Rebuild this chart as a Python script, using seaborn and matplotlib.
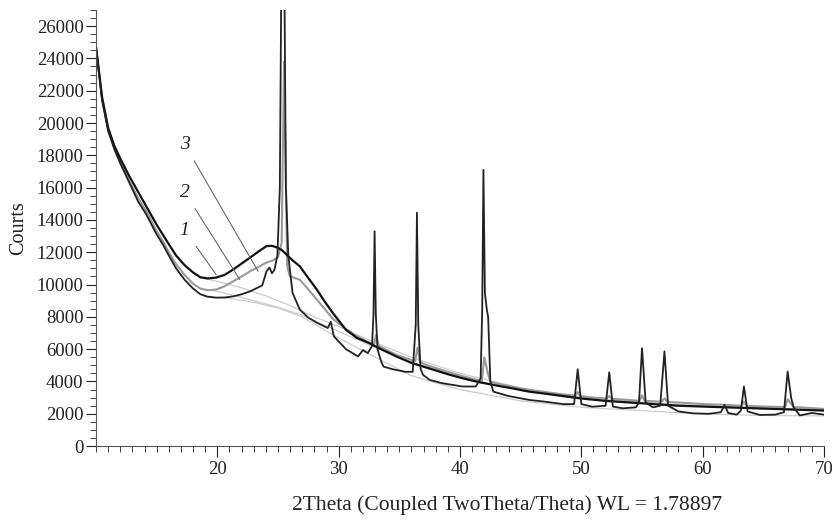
import matplotlib
matplotlib.use("Agg")
import matplotlib.pyplot as plt
import seaborn as sns
from matplotlib.ticker import MultipleLocator

# curve 1: upper black pattern with the broad amorphous hump
two_theta_1 = [10.0, 10.5, 11.0, 11.5, 12.0, 12.75, 13.5, 14.1, 15.0, 15.5, 16.0, 16.6,
               17.3, 18.0, 18.6, 19.2, 19.9, 20.6, 21.3, 22.0, 22.7, 23.4, 24.05, 24.5,
               24.9, 25.3, 25.7, 26.2, 26.8, 27.5, 28.2, 28.8, 29.5, 30.6, 31.5, 32.5,
               33.5, 34.75, 36.0, 37.5, 39.0, 40.2, 41.5, 43.0, 44.5, 45.7, 47.0, 48.5,
               50.0, 52.0, 54.0, 56.0, 58.0, 60.0, 62.0, 64.0, 66.0, 68.0, 70.0]
counts_1 = [24700, 21600, 19700, 18600, 17800, 16700, 15700, 14900, 13700, 13100, 12500, 11800,
            11200, 10750, 10450, 10380, 10430, 10600, 10930, 11300, 11670, 12050, 12380, 12400,
            12300, 12150, 11860, 11500, 11130, 10400, 9690, 9000, 8260, 7200, 6700, 6380,
            6000, 5550, 5150, 4800, 4450, 4200, 3970, 3750, 3550, 3370, 3250, 3100,
            2950, 2800, 2700, 2600, 2500, 2450, 2400, 2350, 2300, 2250, 2200]

# curve 2: grey pattern, weak reflections
two_theta_2 = [10.0, 10.5, 11.0, 11.5, 12.0, 12.75, 13.5, 14.1, 15.0, 15.5, 16.0, 16.6,
               17.3, 18.0, 18.6, 19.2, 19.9, 20.6, 21.3, 22.0, 22.7, 23.4, 24.05, 24.6,
               25.0, 25.3, 25.5, 25.75, 25.97, 26.8, 27.5, 28.2, 29.5, 30.6, 31.5, 32.5,
               32.9, 33.1, 33.3, 34.75, 36.3, 36.5, 36.7, 37.5, 39.0, 40.2, 41.5, 41.8,
               42.0, 42.3, 42.5, 43.0, 44.5, 45.7, 47.0, 48.5, 49.5, 49.7, 49.9, 51.0,
               52.1, 52.3, 52.5, 54.0, 54.8, 55.0, 55.2, 56.6, 56.85, 57.1, 58.0, 60.0,
               62.0, 63.2, 63.4, 63.6, 65.0, 66.8, 67.0, 67.3, 67.5, 68.5, 70.0]
counts_2 = [24700, 21500, 19600, 18500, 17600, 16400, 15300, 14600, 13300, 12700, 12000, 11250,
            10600, 10050, 9750, 9650, 9690, 9900, 10200, 10500, 10820, 11100, 11360, 11500,
            11700, 12600, 23800, 11200, 10510, 10300, 9700, 9070, 7900, 7250, 6800, 6420,
            6300, 6900, 6200, 5650, 5250, 6100, 5200, 4950, 4600, 4330, 4080, 4050,
            5500, 4500, 4000, 3880, 3650, 3480, 3350, 3200, 3130, 3350, 3100, 3000,
            2950, 3100, 2930, 2850, 2800, 3150, 2800, 2750, 2950, 2730, 2700, 2600,
            2550, 2500, 2750, 2500, 2450, 2420, 2900, 2600, 2420, 2380, 2300]

# curve 3: lower black pattern with the sharp crystalline reflections
two_theta_3 = [10.0, 10.5, 11.0, 11.5, 12.0, 12.75, 13.5, 14.1, 15.0, 15.5, 16.0, 16.6,
               17.3, 18.0, 18.6, 19.2, 19.9, 20.6, 21.3, 22.0, 22.7, 23.3, 23.7, 24.05,
               24.3, 24.5, 24.7, 24.95, 25.15, 25.4, 25.65, 25.85, 26.2, 26.8, 27.5, 28.2,
               29.1, 29.35, 29.6, 30.6, 31.6, 32.0, 32.4, 32.75, 32.87, 32.96, 33.06, 33.2,
               33.5, 33.7, 34.5, 35.5, 36.1, 36.35, 36.45, 36.56, 36.75, 36.95, 37.5, 38.5,
               40.2, 41.3, 41.7, 41.83, 41.93, 42.05, 42.2, 42.32, 42.5, 42.75, 44.0, 45.7,
               47.0, 48.5, 49.4, 49.7, 50.0, 50.9, 52.0, 52.3, 52.6, 53.4, 54.5, 54.75,
               55.0, 55.3, 55.9, 56.5, 56.85, 57.15, 58.0, 59.2, 60.5, 61.5, 61.8, 62.1,
               62.8, 63.15, 63.4, 63.7, 64.7, 66.0, 66.7, 67.0, 67.3, 67.5, 68.0, 69.0, 70.0]
counts_3 = [24700, 21400, 19500, 18400, 17500, 16300, 15100, 14400, 13100, 12500, 11800, 11000,
            10300, 9750, 9400, 9250, 9190, 9200, 9270, 9400, 9580, 9800, 9950, 10820,
            11050, 10700, 10900, 11800, 16000, 42000, 16000, 11760, 9480, 8450, 7950, 7640,
            7310, 7700, 6800, 6000, 5550, 5950, 5760, 6200, 8200, 13300, 8200, 6000,
            5240, 4920, 4750, 4600, 4600, 7500, 14450, 7500, 4800, 4410, 4100, 3900,
            3690, 3690, 4200, 8500, 17100, 9500, 8500, 8000, 4000, 3370, 3100, 2860,
            2750, 2600, 2600, 4760, 2600, 2440, 2500, 4570, 2450, 2340, 2400, 2700,
            6060, 2700, 2400, 2500, 5860, 2500, 2150, 2030, 2000, 2100, 2550, 2050,
            1950, 2200, 3690, 2150, 1930, 1950, 2100, 4620, 2960, 2400, 1900, 2050, 1950]

# smooth fitted backgrounds (light grey)
bg_theta_1 = [18.5, 20, 22, 24, 26, 28, 30, 33, 36, 40, 45, 50, 55, 60, 65, 70]
bg_counts_1 = [10450, 10200, 9800, 9300, 8700, 8000, 7400, 6400, 5500, 4500, 3600, 3000, 2700, 2500, 2350, 2250]
bg_theta_2 = [19.5, 21, 23, 25, 27, 30, 33, 36, 40, 45, 50, 55, 60, 65, 70]
bg_counts_2 = [9650, 9400, 9000, 8600, 8100, 7100, 6100, 5200, 4300, 3450, 2900, 2650, 2450, 2300, 2200]
bg_theta_3 = [19, 21, 23, 25, 27, 29.5, 32, 36, 40, 45, 50, 55, 60, 65, 70]
bg_counts_3 = [9250, 9150, 8900, 8550, 8000, 6900, 5900, 4350, 3500, 2800, 2400, 2200, 1980, 1900, 1870]

x_ticks = [20, 30, 40, 50, 60, 70]
y_ticks = list(range(0, 26001, 2000))
curve_labels = ["1", "2", "3"]
label_text_pos = [(17.3, 13370), (17.3, 15730), (17.3, 18690)]
label_targets = [(19.9, 10620), (21.85, 10310), (23.36, 10820)]

sns.set_style("ticks")
plt.rcParams['font.family'] = ['Liberation Serif', 'DejaVu Serif']

fig = plt.figure(figsize=(8.32, 5.23), dpi=100)
ax = fig.add_axes([0.1154, 0.147, 0.875, 0.834])

for bx, by in [(bg_theta_1, bg_counts_1), (bg_theta_2, bg_counts_2), (bg_theta_3, bg_counts_3)]:
    sns.lineplot(x=bx, y=by, ax=ax, color="#cccccc", linewidth=0.9)

sns.lineplot(x=two_theta_2, y=counts_2, ax=ax, color="#999999", linewidth=1.5)
sns.lineplot(x=two_theta_1, y=counts_1, ax=ax, color="#111111", linewidth=1.6)
sns.lineplot(x=two_theta_3, y=counts_3, ax=ax, color="#222222", linewidth=1.3)

for lab, (tx, ty), (px, py) in zip(curve_labels, label_text_pos, label_targets):
    ax.annotate(lab, xy=(px, py), xytext=(tx, ty), fontsize=14, style="italic",
                ha="center", va="center", color="#222222",
                arrowprops=dict(arrowstyle="-", color="#555555", lw=0.7,
                                shrinkA=4, shrinkB=0))

ax.set_xlim(10, 70)
ax.set_ylim(0, 27000)
ax.set_xticks(x_ticks)
ax.set_yticks(y_ticks)
ax.xaxis.set_minor_locator(MultipleLocator(1))
ax.yaxis.set_minor_locator(MultipleLocator(500))
ax.tick_params(axis="both", which="major", direction="out", labelsize=13.5,
               colors="#222222", width=0.8)
ax.tick_params(axis="x", which="major", length=8, pad=3)
ax.tick_params(axis="y", which="major", length=7, pad=2)
ax.tick_params(axis="both", which="minor", direction="out", length=4, width=0.7, color="#444444")

ax.set_xlabel("2Theta (Coupled TwoTheta/Theta) WL = 1.78897", fontsize=15.5, color="#222222")
ax.xaxis.set_label_coords(0.565, -0.112)
ax.set_ylabel("Courts", fontsize=14.5, labelpad=6, color="#222222")

sns.despine(ax=ax)
for s in ["left", "bottom"]:
    ax.spines[s].set_color("#555555")
    ax.spines[s].set_linewidth(0.8)

fig.savefig("out.png", dpi=100)
